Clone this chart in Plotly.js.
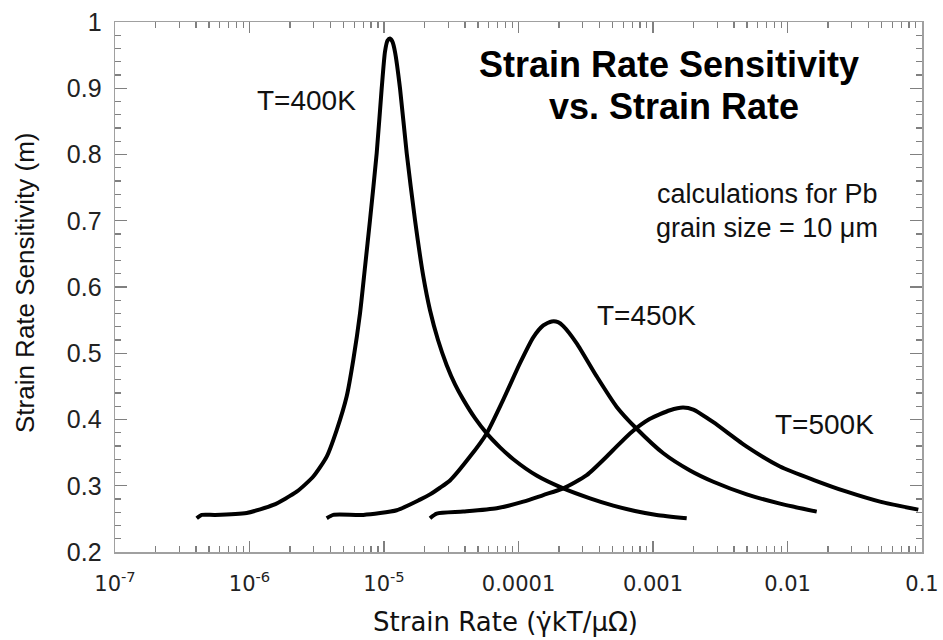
<!DOCTYPE html>
<html>
<head>
<meta charset="utf-8">
<script src="https://cdn.plot.ly/plotly-3.0.1.min.js"></script>
<style>html,body{margin:0;padding:0;background:#fff;}#chart{width:943px;height:640px;}</style>
</head>
<body>
<div id="chart"></div>
<script>
// Strain rate (x) and strain rate sensitivity m (y) for three temperatures
const x400 = [4.05e-7, 4.41e-7, 5.54e-7, 9.53e-7, 1.503e-6, 2.243e-6, 2.981e-6, 3.750e-6, 4.449e-6, 5.281e-6, 5.911e-6, 6.631e-6, 7.224e-6, 7.869e-6, 8.825e-6, 9.614e-6, 1.017e-5, 1.062e-5, 1.108e-5, 1.157e-5, 1.207e-5, 1.315e-5, 1.475e-5, 1.700e-5, 1.960e-5, 2.198e-5, 2.521e-5, 2.926e-5, 3.373e-5, 3.887e-5, 4.749e-5, 5.804e-5, 7.287e-5, 9.148e-5, 1.373e-4, 2.153e-4, 3.401e-4, 5.067e-4, 7.346e-4, 1.065e-3, 1.781e-3];
const y400 = [0.251, 0.256, 0.256, 0.259, 0.271, 0.291, 0.314, 0.344, 0.384, 0.435, 0.490, 0.560, 0.630, 0.701, 0.802, 0.900, 0.955, 0.972, 0.975, 0.970, 0.955, 0.900, 0.802, 0.701, 0.616, 0.565, 0.520, 0.482, 0.453, 0.430, 0.402, 0.379, 0.358, 0.340, 0.315, 0.296, 0.281, 0.270, 0.262, 0.256, 0.251];

const x450 = [3.750e-6, 4.20e-6, 7.018e-6, 1.243e-5, 1.852e-5, 2.198e-5, 2.609e-5, 3.096e-5, 4.359e-5, 5.80e-5, 7.709e-5, 1.026e-4, 1.288e-4, 1.529e-4, 1.766e-4, 1.967e-4, 2.153e-4, 2.708e-4, 3.815e-4, 5.374e-4, 7.562e-4, 1.193e-3, 1.884e-3, 2.808e-3, 4.974e-3, 8.795e-3, 1.649e-2];
const y450 = [0.251, 0.256, 0.256, 0.263, 0.279, 0.287, 0.297, 0.308, 0.344, 0.379, 0.430, 0.485, 0.524, 0.542, 0.548, 0.547, 0.541, 0.515, 0.465, 0.419, 0.386, 0.349, 0.323, 0.306, 0.287, 0.273, 0.261];

const x500 = [2.198e-5, 2.465e-5, 3.887e-5, 6.884e-5, 1.086e-4, 1.529e-4, 2.153e-4, 3.215e-4, 4.789e-4, 6.745e-4, 9.500e-4, 1.338e-3, 1.671e-3, 1.994e-3, 2.808e-3, 4.974e-3, 8.795e-3, 1.555e-2, 2.755e-2, 4.873e-2, 9.387e-2];
const y500 = [0.251, 0.258, 0.261, 0.266, 0.276, 0.286, 0.296, 0.316, 0.349, 0.379, 0.401, 0.414, 0.418, 0.415, 0.396, 0.359, 0.329, 0.309, 0.291, 0.276, 0.264];

const xTickVals = [1e-7, 1e-6, 1e-5, 1e-4, 1e-3, 1e-2, 1e-1];
const xTickText = ['10<sup>-7</sup>', '10<sup>-6</sup>', '10<sup>-5</sup>', '0.0001', '0.001', '0.01', '0.1'];
const yTickVals = [0.2, 0.3, 0.4, 0.5, 0.6, 0.7, 0.8, 0.9, 1];
const yTickText = ['0.2', '0.3', '0.4', '0.5', '0.6', '0.7', '0.8', '0.9', '1'];
const seriesLabels = ['T=400K', 'T=450K', 'T=500K'];

const xMinor = [];
for (let e = -7; e < -1; e++) {
  for (let d = 2; d <= 9; d++) xMinor.push(d * Math.pow(10, e));
}

const lineStyle = {color: '#000', width: 4, shape: 'spline', smoothing: 0.6};
const traces = [
  {x: x400, y: y400, name: seriesLabels[0], mode: 'lines', line: lineStyle},
  {x: x450, y: y450, name: seriesLabels[1], mode: 'lines', line: lineStyle},
  {x: x500, y: y500, name: seriesLabels[2], mode: 'lines', line: lineStyle}
];

const axisGray = '#808080';
const layout = {
  width: 943, height: 640,
  margin: {l: 115, r: 21, t: 22, b: 88},
  showlegend: false,
  xaxis: {
    type: 'log', range: [-7, -1],
    tickmode: 'array', tickvals: xTickVals, ticktext: xTickText,
    ticks: 'inside', ticklen: 11, tickwidth: 1.3, tickcolor: axisGray,
    showline: true, linecolor: '#a0a0a0', linewidth: 1.5, mirror: 'allticks',
    showgrid: false, zeroline: false,
    tickfont: {family: 'DejaVu Sans', size: 21, color: '#222'},
    ticklabelstandoff: 12,
    minor: {tickmode: 'array', tickvals: xMinor, ticks: 'inside', ticklen: 6, tickwidth: 1.3, tickcolor: axisGray, showgrid: false}
  },
  yaxis: {
    range: [0.2, 1],
    tickmode: 'array', tickvals: yTickVals, ticktext: yTickText.map(t => t + '\u00a0'),
    ticks: 'inside', ticklen: 12, tickwidth: 1.3, tickcolor: axisGray,
    showline: true, linecolor: '#a0a0a0', linewidth: 1.5, mirror: 'allticks',
    showgrid: false, zeroline: false,
    tickfont: {family: 'Liberation Sans, Arial', size: 25, color: '#222'},
    minor: {dtick: 0.02, ticks: 'inside', ticklen: 6, tickwidth: 1.3, tickcolor: axisGray, showgrid: false}
  },
  annotations: [
    {text: '<b>Strain Rate Sensitivity</b>', xref: 'paper', yref: 'paper', x: 0.6865, y: 0.920, xanchor: 'center', yanchor: 'middle', showarrow: false, font: {family: 'Liberation Sans, Arial', size: 36, color: '#000'}},
    {text: '<b>vs. Strain Rate</b>', xref: 'paper', yref: 'paper', x: 0.693, y: 0.8406, xanchor: 'center', yanchor: 'middle', showarrow: false, font: {family: 'Liberation Sans, Arial', size: 36, color: '#000'}},
    {text: 'calculations for Pb', xref: 'paper', yref: 'paper', x: 0.948, y: 0.6755, xanchor: 'right', yanchor: 'middle', showarrow: false, font: {family: 'Liberation Sans, Arial', size: 27, color: '#111'}},
    {text: 'grain size = 10 \u03bcm', xref: 'paper', yref: 'paper', x: 0.948, y: 0.611, xanchor: 'right', yanchor: 'middle', showarrow: false, font: {family: 'Liberation Sans, Arial', size: 27, color: '#111'}},
    {text: seriesLabels[0], xref: 'paper', yref: 'paper', x: 0.2367, y: 0.8528, xanchor: 'center', yanchor: 'middle', showarrow: false, font: {family: 'Liberation Sans, Arial', size: 28, color: '#111'}},
    {text: seriesLabels[1], xref: 'paper', yref: 'paper', x: 0.658, y: 0.4453, xanchor: 'center', yanchor: 'middle', showarrow: false, font: {family: 'Liberation Sans, Arial', size: 28, color: '#111'}},
    {text: seriesLabels[2], xref: 'paper', yref: 'paper', x: 0.8798, y: 0.2415, xanchor: 'center', yanchor: 'middle', showarrow: false, font: {family: 'Liberation Sans, Arial', size: 28, color: '#111'}},
    {text: 'Strain Rate (\u03b3\u0307kT/\u03bc\u03a9)', xref: 'paper', yref: 'paper', x: 0.4845, y: -0.133, xanchor: 'center', yanchor: 'middle', showarrow: false, font: {family: 'DejaVu Sans', size: 26, color: '#111'}},
    {text: 'Strain Rate Sensitivity (m)', xref: 'paper', yref: 'paper', x: -0.1115, y: 0.5075, xanchor: 'center', yanchor: 'middle', textangle: -90, showarrow: false, font: {family: 'Liberation Sans, Arial', size: 26, color: '#111'}}
  ]
};

Plotly.newPlot('chart', traces, layout, {displayModeBar: false, staticPlot: true});
</script>
</body>
</html>
